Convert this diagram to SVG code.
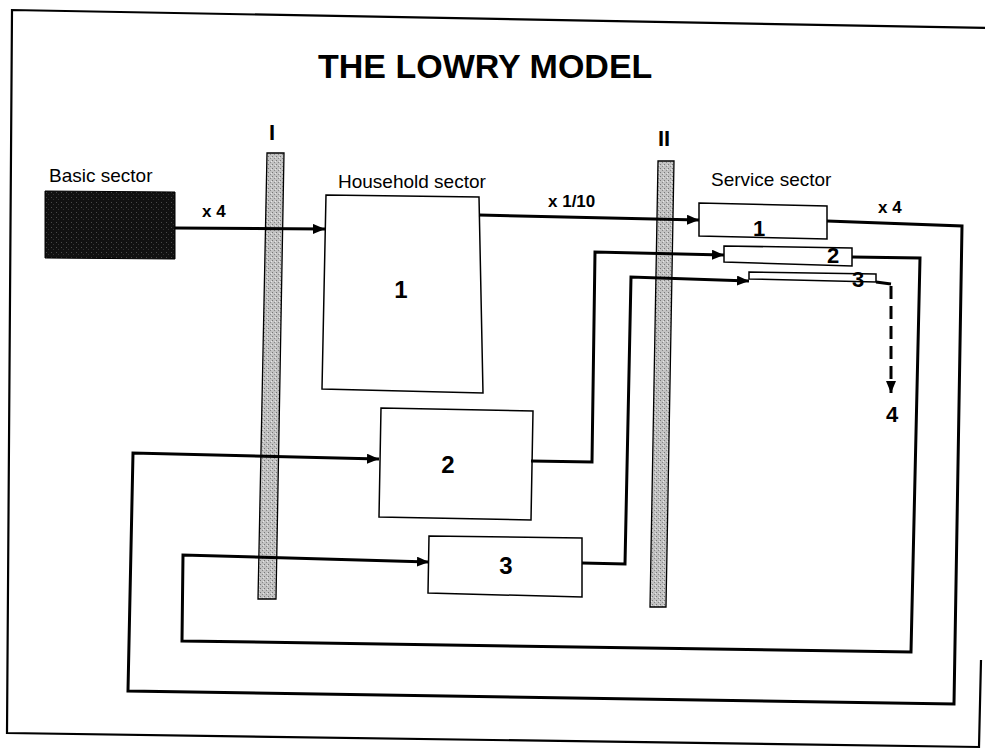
<svg xmlns="http://www.w3.org/2000/svg" width="985" height="751" viewBox="0 0 985 751">
<style>
.frame{fill:none;stroke:#000;stroke-width:2.2}
.box{fill:#fff;stroke:#000;stroke-width:1.5}
.bar{fill:url(#stipple);stroke:#000;stroke-width:1.3}
.conn{fill:none;stroke:#000;stroke-width:3;stroke-linejoin:miter}
.lbl{font-family:"Liberation Sans",Arial,sans-serif;font-size:19px;fill:#000}
.mult{font-family:"Liberation Sans",Arial,sans-serif;font-size:17px;font-weight:bold;fill:#000}
.num{font-family:"Liberation Sans",Arial,sans-serif;font-size:24px;font-weight:bold;fill:#000;text-anchor:middle}
.snum{font-family:"Liberation Sans",Arial,sans-serif;font-size:22px;font-weight:bold;fill:#000;text-anchor:middle}
.title{font-family:"Liberation Sans",Arial,sans-serif;font-size:34px;font-weight:bold;fill:#000}
.roman{font-family:"Liberation Sans",Arial,sans-serif;font-size:22px;font-weight:bold;fill:#000;text-anchor:middle}
</style>
<defs>
<pattern id="stipple" width="4" height="4" patternUnits="userSpaceOnUse">
<rect width="4" height="4" fill="#c2c2c2"/>
<rect x="0" y="0" width="1" height="1" fill="#777"/>
<rect x="2" y="2" width="1" height="1" fill="#888"/>
<rect x="3" y="1" width="1" height="1" fill="#e6e6e6"/>
</pattern>
<pattern id="dark" width="5" height="5" patternUnits="userSpaceOnUse">
<rect width="5" height="5" fill="#111"/>
<rect x="1" y="2" width="1" height="1" fill="#4a4a4a"/>
<rect x="3" y="4" width="1" height="1" fill="#333"/>
</pattern>
<marker id="arr" markerUnits="userSpaceOnUse" markerWidth="13" markerHeight="11" refX="12" refY="5" orient="auto">
<path d="M0,0 L12,5 L0,10 Z" fill="#000"/>
</marker>
</defs>

<path class="frame" d="M990,28 L12,10 L7,733 L979,747 L981,660"/>

<text class="title" x="318" y="78">THE LOWRY MODEL</text>

<g id="barI">
<polygon class="bar" points="267,153 284,153 276,599 258,599"/>
<text class="roman" x="272" y="140">I</text>
</g>
<g id="barII">
<polygon class="bar" points="658,161 674,161 666,607 650,607"/>
<text class="roman" x="664" y="146">II</text>
</g>

<g id="basic">
<text class="lbl" x="49" y="182">Basic sector</text>
<polygon points="45,191 175,192 175,259 45,258" fill="url(#dark)" stroke="#000" stroke-width="1"/>
</g>

<g id="household1">
<text class="lbl" x="338" y="188">Household sector</text>
<polygon class="box" points="326,195 479,197 483,393 322,389"/>
<text class="num" x="401" y="298">1</text>
</g>
<g id="household2">
<polygon class="box" points="381,408 533,411 531,520 379,517"/>
<text class="num" x="448" y="473">2</text>
</g>
<g id="household3">
<polygon class="box" points="429,536 582,538 582,597 428,593"/>
<text class="num" x="506" y="574">3</text>
</g>

<g id="service1">
<text class="lbl" x="711" y="186">Service sector</text>
<polygon class="box" points="699,203 827,206 827,239 699,236"/>
<text class="snum" x="759" y="236">1</text>
</g>
<g id="service2">
<polygon class="box" points="724,246 852,248 852,266 724,262"/>
<text class="snum" x="833" y="263">2</text>
</g>
<g id="service3">
<polygon class="box" points="749,272 876,274 876,282 749,279"/>
<text class="snum" x="858" y="287">3</text>
</g>
<g id="service4">
<text class="snum" x="892" y="422">4</text>
</g>

<g id="connectors">
<path class="conn" d="M175,228 L325,229" marker-end="url(#arr)"/>
<text class="mult" x="202" y="217">x 4</text>
<path class="conn" d="M479,215 L699,220" marker-end="url(#arr)"/>
<text class="mult" x="548" y="207">x 1/10</text>
<path class="conn" d="M827,221 L962,226 L954,704 L128,691 L133,453 L379,459" marker-end="url(#arr)"/>
<text class="mult" x="878" y="213">x 4</text>
<path class="conn" d="M852,257 L920,258 L911,652 L182,641 L183,555 L429,562" marker-end="url(#arr)"/>
<path class="conn" d="M531,461 L592,462 L595,252 L724,255" marker-end="url(#arr)"/>
<path class="conn" d="M582,563 L625,564 L631,277 L749,281" marker-end="url(#arr)"/>
<path class="conn" d="M876,282 L891,284"/>
<path class="conn" d="M891,286 L891,393" stroke-width="3.5" stroke-dasharray="13 7" marker-end="url(#arr)"/>
</g>
</svg>
